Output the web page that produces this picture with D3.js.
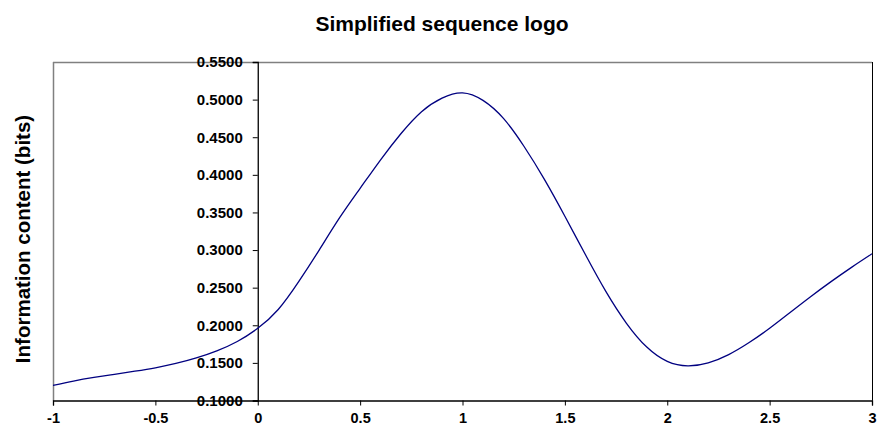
<!DOCTYPE html>
<html><head><meta charset="utf-8">
<script src="https://cdn.jsdelivr.net/npm/d3@7"></script>
<style>body{margin:0;background:#fff}svg{display:block}text{font-family:"Liberation Sans",Arial,sans-serif;font-weight:bold}</style>
</head><body><svg id="c" width="878" height="428"></svg>
<script>
const xs = [-1.0,-0.9,-0.8,-0.7,-0.6,-0.5,-0.4,-0.3,-0.2,-0.1,0.0,0.1,0.2,0.3,0.4,0.5,0.6,0.7,0.8,0.9,1.0,1.1,1.2,1.3,1.4,1.5,1.6,1.7,1.8,1.9,2.0,2.1,2.2,2.3,2.4,2.5,2.6,2.7,2.8,2.9,3.0];
const ys = [0.120,0.1258,0.1306,0.1348,0.1390,0.1435,0.1492,0.1566,0.1660,0.1785,0.196,0.221,0.258,0.300,0.343,0.382,0.420,0.455,0.484,0.502,0.509,0.499,0.475,0.438,0.394,0.345,0.294,0.245,0.203,0.171,0.152,0.146,0.150,0.161,0.177,0.196,0.217,0.238,0.258,0.277,0.295];
const xTicks = [-1,-0.5,0,0.5,1,1.5,2,2.5,3];
const xTickLabels = ["-1","-0.5","0","0.5","1","1.5","2","2.5","3"];
const yTicks = [0.10,0.15,0.20,0.25,0.30,0.35,0.40,0.45,0.50,0.55];
const title = "Simplified sequence logo";
const yTitle = "Information content (bits)";

const svg = d3.select("#c");
const L=53, R=872, T=62, B=400.5;
const x = d3.scaleLinear().domain([-1,3]).range([L,R]);
const y = d3.scaleLinear().domain([0.1,0.55]).range([B,T]);
const FONT = "'Liberation Sans',Arial,sans-serif";

// frame
svg.append("line").attr("x1",L).attr("x2",R).attr("y1",T+0.5).attr("y2",T+0.5).attr("stroke","#808080").attr("stroke-width",1.5);
svg.append("line").attr("x1",L+0.5).attr("x2",L+0.5).attr("y1",T).attr("y2",B).attr("stroke","#808080").attr("stroke-width",1.5);
svg.append("line").attr("x1",R+0.5).attr("x2",R+0.5).attr("y1",T).attr("y2",B).attr("stroke","#000").attr("stroke-width",1);

// x axis
const xa = svg.append("g").attr("transform",`translate(0,${B})`)
  .call(d3.axisBottom(x).tickValues(xTicks).tickFormat((d,i)=>xTickLabels[i]).tickSize(5).tickPadding(7));
xa.select(".domain").attr("stroke","#000").attr("stroke-width",1.3);
xa.selectAll(".tick line").attr("stroke","#000");
xa.selectAll("text").attr("font-size",14.5).attr("fill","#000").style("font-family",FONT).style("font-weight","bold");

// y axis at x=0
const ya = svg.append("g").attr("transform",`translate(${x(0)},0)`)
  .call(d3.axisLeft(y).tickValues(yTicks).tickFormat(d3.format(".4f")).tickSize(5).tickPadding(10));
ya.select(".domain").attr("stroke","#000").attr("stroke-width",1.3);
ya.selectAll(".tick line").attr("stroke","#000");
ya.selectAll("text").attr("font-size",15).attr("fill","#000").style("font-family",FONT).style("font-weight","bold");

// line
const data = xs.map((d,i)=>[d,ys[i]]);
svg.append("path").datum(data)
  .attr("fill","none").attr("stroke","#000080").attr("stroke-width",1.3)
  .attr("d", d3.line().x(d=>x(d[0])).y(d=>y(d[1])).curve(d3.curveNatural));

svg.append("text").attr("x",442).attr("y",31).attr("text-anchor","middle").attr("font-size",21).text(title);
svg.append("text").attr("transform",`translate(30,239) rotate(-90)`).attr("text-anchor","middle").attr("font-size",20.5).text(yTitle);
</script></body></html>
